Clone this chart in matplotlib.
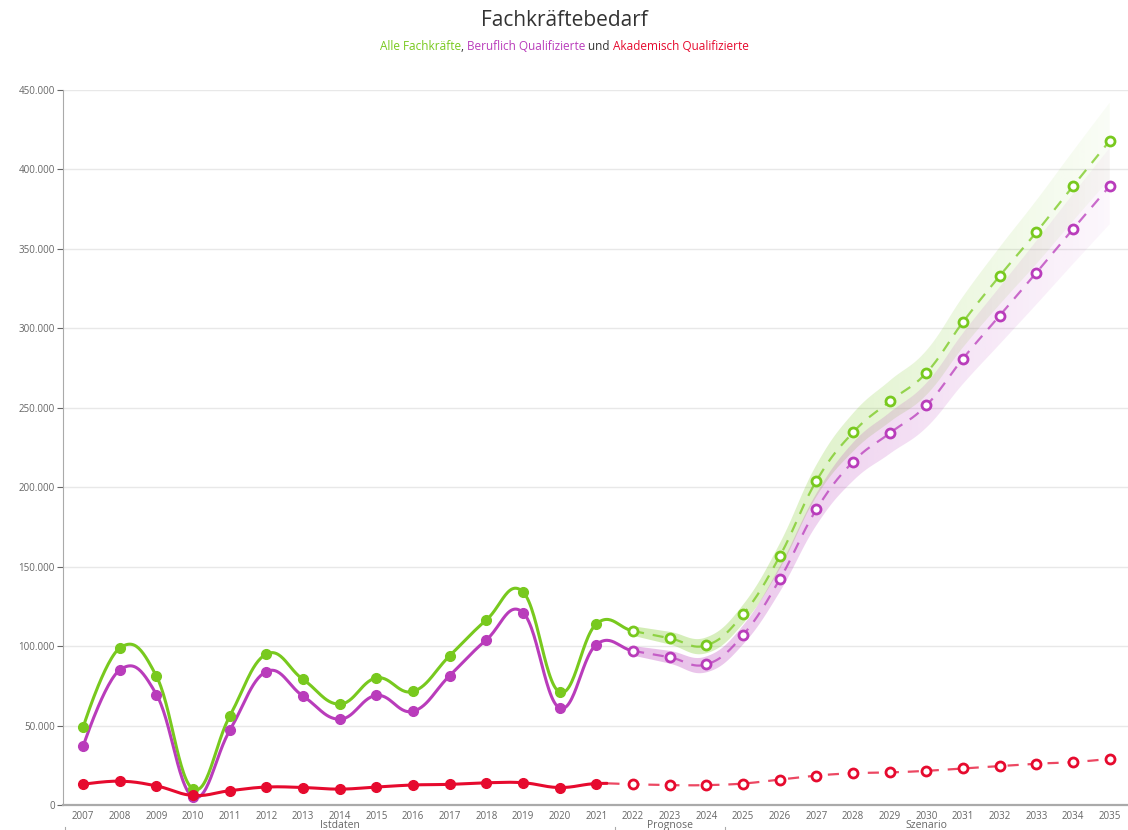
import numpy as np
import matplotlib
matplotlib.use("Agg")
import matplotlib.pyplot as plt
from matplotlib.ticker import FuncFormatter

plt.rcParams['font.family'] = ['Open Sans', 'DejaVu Sans']

years = list(range(2007, 2036))

# Alle Fachkräfte, Beruflich Qualifizierte, Akademisch Qualifizierte
alle = [49000, 98800, 81000, 10000, 56000, 95000, 79000, 63500, 80000, 71500,
        94000, 116500, 134000, 71000, 114000, 109500, 105000, 100500, 120000,
        156500, 204000, 234500, 254000, 272000, 304000, 333000, 360500, 389500, 418000]
beruflich = [37000, 85000, 69500, 5000, 47000, 84000, 68500, 54000, 69000, 59000,
             81500, 104000, 121000, 61000, 101000, 97000, 93000, 88500, 107000,
             142000, 186000, 216000, 234000, 251500, 281000, 308000, 335000, 362500, 389500]
akademisch = [13000, 15000, 12000, 6000, 9000, 11300, 11000, 10000, 11300, 12600,
              13000, 14000, 14000, 11000, 13500, 13000, 12500, 12500, 13500,
              16000, 18500, 20000, 20500, 21500, 23000, 24500, 26000, 27000, 29000]

# half width of the uncertainty band, 2022-2035
band_years = list(range(2022, 2036))
band_alle = [3000, 4000, 5000, 6000, 8000, 10000, 12000, 13000, 14000, 16000, 18000, 20000, 22000, 24000]
band_beruflich = [3000, 4000, 5000, 6000, 8000, 10000, 12000, 13000, 14000, 16000, 18000, 20000, 22000, 24000]

groups = [("Istdaten", 2006.5, 2021.5), ("Prognose", 2021.5, 2024.5), ("Szenario", 2024.5, 2035.5)]

GREEN = '#78c91e'
PURPLE = '#b93cbb'
RED = '#e60a2e'


def spline(x, y, n=30):
    # highcharts style spline (smoothing 1.5), no clamping
    x = np.asarray(x, float)
    y = np.asarray(y, float)
    m = len(x)
    lc = [(x[i], y[i]) for i in range(m)]
    rc = [(x[i], y[i]) for i in range(m)]
    for i in range(1, m - 1):
        lx = (1.5 * x[i] + x[i - 1]) / 2.5
        ly = (1.5 * y[i] + y[i - 1]) / 2.5
        rx = (1.5 * x[i] + x[i + 1]) / 2.5
        ry = (1.5 * y[i] + y[i + 1]) / 2.5
        corr = (ry - ly) * (rx - x[i]) / (rx - lx) + y[i] - ry
        lc[i] = (lx, ly + corr)
        rc[i] = (rx, ry + corr)
    segs = []
    t = np.linspace(0, 1, n)[:, None]
    for i in range(m - 1):
        p0 = np.array([x[i], y[i]])
        p1 = np.array(rc[i])
        p2 = np.array(lc[i + 1])
        p3 = np.array([x[i + 1], y[i + 1]])
        pts = (1 - t) ** 3 * p0 + 3 * (1 - t) ** 2 * t * p1 + 3 * (1 - t) * t ** 2 * p2 + t ** 3 * p3
        segs.append(pts)
    return segs


fig = plt.figure(figsize=(11.28, 8.3), dpi=100)
ax = fig.add_axes([63 / 1128, 25 / 830, 1065 / 1128, 715 / 830])

# uncertainty bands with fading gradient
for vals, half, col in [(alle, band_alle, GREEN), (beruflich, band_beruflich, PURPLE)]:
    centre = vals[years.index(2022):]
    up = np.vstack(spline(band_years, [c + h for c, h in zip(centre, half)]))
    lo = np.vstack(spline(band_years, [c - h for c, h in zip(centre, half)]))
    poly = np.vstack([up, lo[::-1]])
    patch = plt.Polygon(poly, closed=True, facecolor='none', edgecolor='none', transform=ax.transData)
    ax.add_patch(patch)
    rgb = matplotlib.colors.to_rgb(col)
    grad = np.zeros((2, 200, 4))
    grad[..., :3] = rgb
    grad[..., 3] = np.linspace(0.34, 0.04, 200)[None, :]
    im = ax.imshow(grad, extent=[2022, 2035, 0, 450000], aspect='auto', origin='lower',
                   interpolation='bilinear', zorder=1)
    im.set_clip_path(patch)

# lines
for vals, col, split in [(alle, GREEN, 2022), (beruflich, PURPLE, 2022), (akademisch, RED, 2021.3)]:
    pts = np.vstack(spline(years, vals))
    solid = pts[pts[:, 0] <= split]
    dashed = pts[pts[:, 0] >= split]
    ax.plot(solid[:, 0], solid[:, 1], color=col, lw=2.2, zorder=3, solid_capstyle='round')
    ax.plot(dashed[:, 0], dashed[:, 1], color=col, lw=1.6, ls=(0, (5, 4)), alpha=0.75, zorder=3)
    hist = [i for i, yr in enumerate(years) if yr <= 2021]
    prog = [i for i, yr in enumerate(years) if yr > 2021]
    ax.plot([years[i] for i in hist], [vals[i] for i in hist], 'o', color=col, ms=7, zorder=4)
    ax.plot([years[i] for i in prog], [vals[i] for i in prog], 'o', mfc='white', mec=col,
            mew=2, ms=6.5, zorder=4)

ax.set_xlim(2006.45, 2035.5)
ax.set_ylim(0, 450000)
ax.set_yticks(range(0, 450001, 50000))
ax.yaxis.set_major_formatter(FuncFormatter(lambda v, p: f"{int(v):,}".replace(",", ".")))
ax.set_xticks(years)
ax.tick_params(axis='y', labelsize=7, colors='#666666', length=4, width=0.8, pad=2)
ax.tick_params(axis='x', labelsize=7, colors='#666666', length=0, pad=4)
ax.grid(axis='y', color='#e8e8e8', lw=1)
ax.set_axisbelow(True)
for s in ['top', 'right']:
    ax.spines[s].set_visible(False)
ax.spines['left'].set_color('#aaaaaa')
ax.spines['bottom'].set_color('#aaaaaa')
ax.spines['bottom'].set_linewidth(1.6)

# grouped category labels
tr = ax.get_xaxis_transform()
for name, a, b in groups:
    ax.text((a + b) / 2, -0.028, name, transform=tr, ha='center', va='center',
            fontsize=7.5, color='#666666', clip_on=False)
for xb in [2006.5, 2021.5, 2024.5]:
    ax.plot([xb, xb], [-0.031, -0.038], transform=tr, color='#aaaaaa', lw=0.8, clip_on=False)

# title and multicoloured subtitle
fig.text(0.5, 1 - 20 / 830, "Fachkräftebedarf", ha='center', va='center', fontsize=15, color='#333333')
parts = [("Alle Fachkräfte", GREEN), (", ", '#333333'), ("Beruflich Qualifizierte", PURPLE),
         (" und ", '#333333'), ("Akademisch Qualifizierte", RED)]
fig.canvas.draw()
r = fig.canvas.get_renderer()
texts = [fig.text(0, 1 - 47 / 830, s, color=c, fontsize=8.5, va='center', ha='left') for s, c in parts]
widths = [t.get_window_extent(r).width for t in texts]
x0 = (1128 - sum(widths)) / 2
for t, w in zip(texts, widths):
    t.set_x(x0 / 1128)
    x0 += w

fig.savefig("out.png", dpi=100)
